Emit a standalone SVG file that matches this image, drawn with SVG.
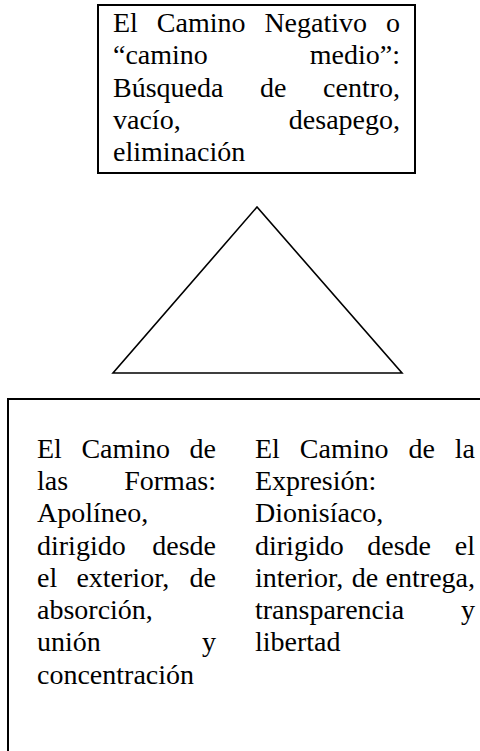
<svg xmlns="http://www.w3.org/2000/svg" width="480" height="751" viewBox="0 0 480 751">
<style>
.t{font-family:"Liberation Serif","Times New Roman",serif;font-size:28px;fill:#000}
.e{text-anchor:end}
.box{fill:#fff;stroke:#000;stroke-width:2}
</style>
<rect width="480" height="751" fill="#fff"/>
<g id="node-negativo">
<rect class="box" x="98" y="5" width="317" height="168"/>
<text class="t" x="113" y="32">El</text>
<text class="t" x="156.8" y="32">Camino</text>
<text class="t" x="264.4" y="32">Negativo</text>
<text class="t e" x="400" y="32">o</text>
<text class="t" x="113" y="64">“camino</text>
<text class="t e" x="400" y="64">medio”:</text>
<text class="t" x="113" y="96.5">Búsqueda</text>
<text class="t" x="260" y="96.5">de</text>
<text class="t e" x="400" y="96.5">centro,</text>
<text class="t" x="113" y="128.5">vacío,</text>
<text class="t e" x="400" y="128.5">desapego,</text>
<text class="t" x="113" y="161">eliminación</text>
</g>
<g id="node-triangulo">
<polygon points="257,207 113,373 402,373" fill="none" stroke="#000" stroke-width="1.6" stroke-linejoin="miter"/>
</g>
<g id="node-caminos">
<path d="M8,760 V399 H490" fill="none" stroke="#000" stroke-width="2"/>
<text class="t" x="37" y="458">El</text>
<text class="t" x="81.4" y="458">Camino</text>
<text class="t e" x="216" y="458">de</text>
<text class="t" x="37" y="490">las</text>
<text class="t e" x="216" y="490">Formas:</text>
<text class="t" x="37" y="522">Apolíneo,</text>
<text class="t" x="37" y="555">dirigido</text>
<text class="t e" x="216" y="555">desde</text>
<text class="t" x="37" y="587">el</text>
<text class="t" x="76.4" y="587">exterior,</text>
<text class="t e" x="216" y="587">de</text>
<text class="t" x="37" y="619">absorción,</text>
<text class="t" x="37" y="651">unión</text>
<text class="t e" x="216" y="651">y</text>
<text class="t" x="37" y="684">concentración</text>
<text class="t" x="255" y="458">El</text>
<text class="t" x="299.8" y="458">Camino</text>
<text class="t" x="408.4" y="458">de</text>
<text class="t e" x="475" y="458">la</text>
<text class="t" x="255" y="490">Expresión:</text>
<text class="t" x="255" y="522">Dionisíaco,</text>
<text class="t" x="255" y="555">dirigido</text>
<text class="t" x="367.3" y="555">desde</text>
<text class="t e" x="475" y="555">el</text>
<text class="t" x="255" y="587">interior,</text>
<text class="t" x="351.8" y="587">de</text>
<text class="t e" x="475" y="587">entrega,</text>
<text class="t" x="255" y="619">transparencia</text>
<text class="t e" x="475" y="619">y</text>
<text class="t" x="255" y="651">libertad</text>
</g>
<g id="connectors"></g>
</svg>
